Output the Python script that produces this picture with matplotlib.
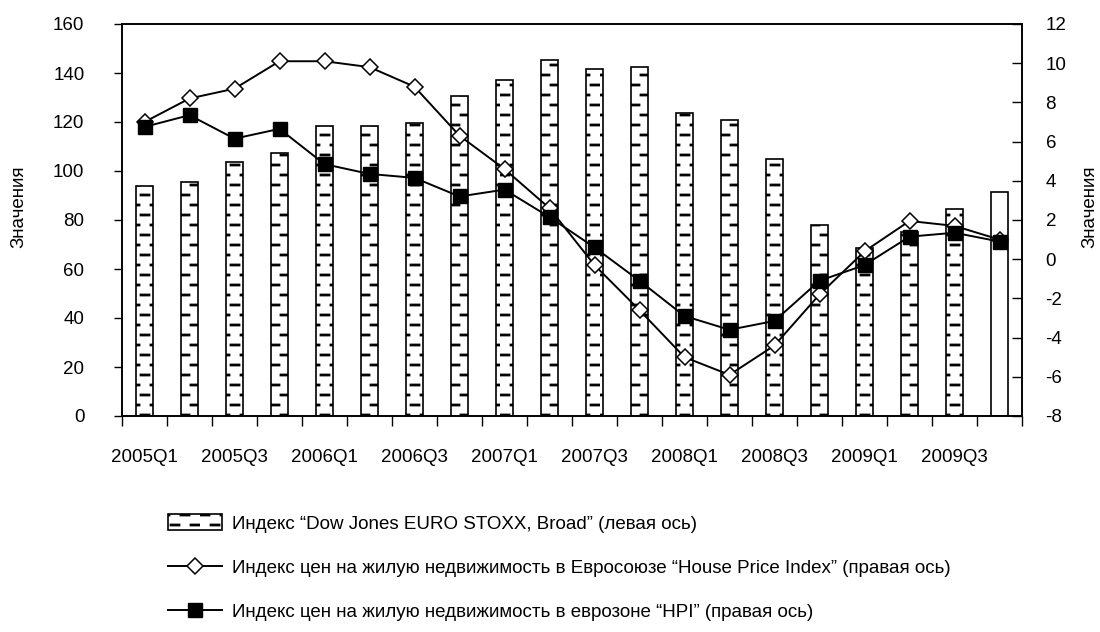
import matplotlib
matplotlib.use('Agg')
import matplotlib.pyplot as plt
import numpy as np
from matplotlib import hatch as mhatch
from matplotlib.path import Path

# ---------------- data ----------------
quarters = ['2005Q1', '2005Q2', '2005Q3', '2005Q4',
            '2006Q1', '2006Q2', '2006Q3', '2006Q4',
            '2007Q1', '2007Q2', '2007Q3', '2007Q4',
            '2008Q1', '2008Q2', '2008Q3', '2008Q4',
            '2009Q1', '2009Q2', '2009Q3', '2009Q4']
stoxx = [94, 95.5, 103.5, 107.5, 118.5, 118.5, 119.5, 130.5, 137, 145.5,
         141.5, 142.5, 123.5, 121, 105, 78, 68.5, 75, 84.5, 91.5]
hpi_eu = [7.0, 8.2, 8.7, 10.1, 10.1, 9.8, 8.8, 6.3, 4.6, 2.6,
          -0.3, -2.6, -5.0, -5.9, -4.4, -1.8, 0.4, 1.95, 1.7, 1.0]
hpi_ez = [6.75, 7.35, 6.15, 6.65, 4.85, 4.35, 4.15, 3.2, 3.55, 2.15,
          0.6, -1.1, -2.9, -3.6, -3.15, -1.1, -0.3, 1.15, 1.35, 0.9]
label_stoxx = 'Индекс “Dow Jones EURO STOXX, Broad” (левая ось)'
label_eu = 'Индекс цен на жилую недвижимость в Евросоюзе “House Price Index” (правая ось)'
label_ez = 'Индекс цен на жилую недвижимость в еврозоне “HPI” (правая ось)'
ylabel = 'Значения'


# ------------- custom brick-dash hatch -------------
class BrickDashHatch(mhatch.HatchPatternBase):
    def __init__(self, hatch, density):
        self.active = '-' in hatch
        self.rows = 10
        self.cols = 5
        self.dash = 0.08
        self.num_vertices = self.rows * self.cols * 2 if self.active else 0

    def set_vertices_and_codes(self, vertices, codes):
        k = 0
        for i in range(self.rows):
            y = (i + 0.5) / self.rows
            off = 0.25 if i % 2 == 0 else 0.75
            for j in range(self.cols):
                xc = (j + off) / self.cols
                vertices[k] = (xc - self.dash / 2, y)
                codes[k] = Path.MOVETO
                vertices[k + 1] = (xc + self.dash / 2, y)
                codes[k + 1] = Path.LINETO
                k += 2


for idx, cls in enumerate(mhatch._hatch_types):
    if cls is mhatch.HorizontalHatch:
        mhatch._hatch_types[idx] = BrickDashHatch

plt.rcParams['font.family'] = ['Liberation Sans', 'DejaVu Sans']
plt.rcParams['axes.unicode_minus'] = False
plt.rcParams['hatch.linewidth'] = 2.0
plt.rcParams['hatch.color'] = '#222222'

FS = 13.5

fig = plt.figure(figsize=(11, 6.32), dpi=100)
ax = fig.add_axes([122 / 1100, 1 - 416 / 632, 900 / 1100, 392 / 632])

x = np.arange(len(quarters))
bars = ax.bar(x, stoxx, width=0.39, color='white', edgecolor='black',
              linewidth=1.2, label=label_stoxx, zorder=2)
for i, b in enumerate(bars):
    b.set_hatch('-' if i < len(quarters) - 1 else '')

ax.set_xlim(-0.5, len(quarters) - 0.5)
ax.set_ylim(0, 160)
ax.set_yticks(np.arange(0, 161, 20))
ax.tick_params(axis='y', direction='out', length=6, width=1, pad=21, labelsize=FS)

# category boundary ticks (major) and labels (minor)
ax.set_xticks(np.arange(-0.5, len(quarters), 1.0))
ax.set_xticklabels([])
ax.tick_params(axis='x', which='major', direction='out', length=7, width=1)
ax.set_xticks(x[::2], minor=True)
ax.set_xticklabels(quarters[::2], minor=True)
ax.tick_params(axis='x', which='minor', length=0, pad=24, labelsize=FS)

ax.set_ylabel(ylabel, fontsize=FS)
ax.yaxis.set_label_coords(-0.105, 0.533)

for s in ax.spines.values():
    s.set_linewidth(1.2)
    s.set_color('black')

ax2 = ax.twinx()
l1, = ax2.plot(x, hpi_eu, color='black', lw=1.4, marker='D', markersize=8.5,
               markerfacecolor='white', markeredgecolor='black', markeredgewidth=1.1,
               label=label_eu, zorder=3)
l2, = ax2.plot(x, hpi_ez, color='black', lw=1.4, marker='s', markersize=9.5,
               markerfacecolor='black', markeredgecolor='black',
               label=label_ez, zorder=4)
ax2.set_ylim(-8, 12)
ax2.set_yticks(np.arange(-8, 13, 2))
ax2.tick_params(axis='y', direction='in', length=7, width=1, pad=17, labelsize=FS)
ax2.set_ylabel(ylabel, fontsize=FS)
ax2.yaxis.set_label_coords(1.066, 0.533)
for s in ax2.spines.values():
    s.set_linewidth(1.2)
    s.set_color('black')

fig.legend(handles=[bars, l1, l2], labels=[label_stoxx, label_eu, label_ez],
           loc='upper left', bbox_to_anchor=(168 / 1100, 1 - 514 / 632),
           frameon=False, fontsize=FS, handlelength=2.9, handleheight=0.95,
           handletextpad=0.5, labelspacing=1.38, borderaxespad=0, borderpad=0)

fig.savefig('out.png', dpi=100)
